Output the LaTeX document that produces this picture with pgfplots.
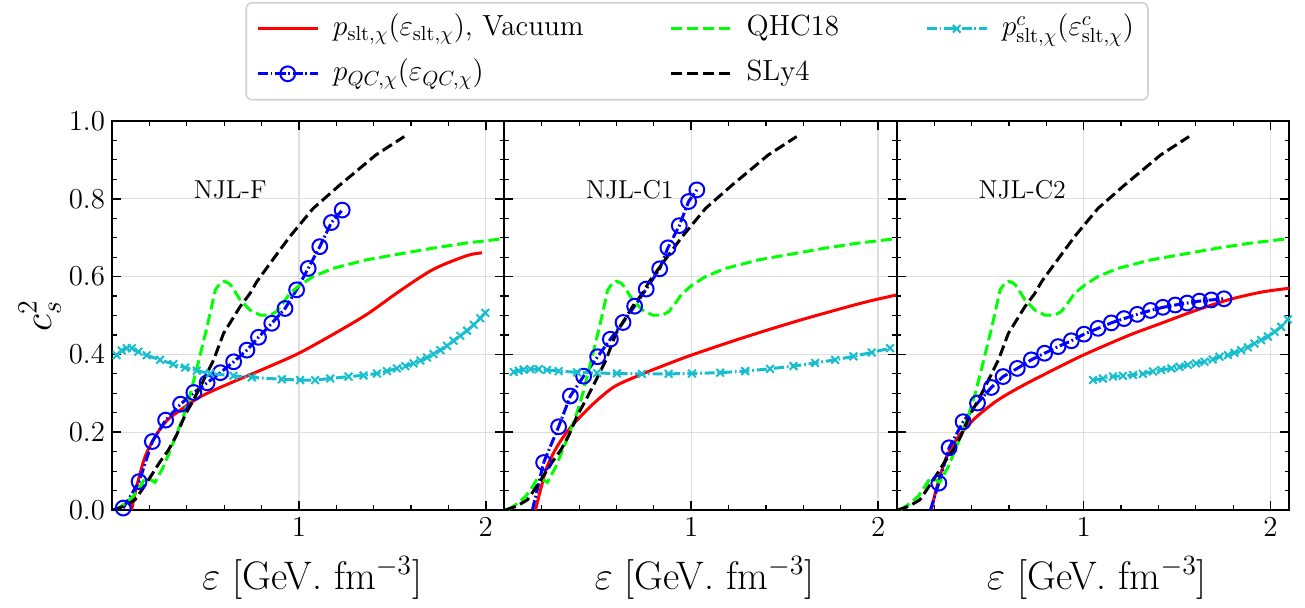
\RequirePackage{fix-cm}
\documentclass[border=0pt]{standalone}
\usepackage{pgfplots}
\pgfplotsset{compat=1.18}
\usepackage{pgfplotstable}
\usepgfplotslibrary{groupplots}

\definecolor{tabcyan}{HTML}{17BECF}

% ---------- reference equations of state (same in every panel) ----------
\pgfplotstableread{
e     cs
0.005 0.000
0.066 0.010
0.123 0.026
0.159 0.051
0.212 0.090
0.257 0.124
0.302 0.154
0.346 0.193
0.391 0.244
0.427 0.275
0.473 0.317
0.544 0.386
0.597 0.454
0.686 0.523
0.739 0.557
0.775 0.587
0.846 0.634
0.952 0.703
1.076 0.775
1.218 0.835
1.413 0.913
1.564 0.960
}\slyfour

\pgfplotstableread{
e     cs
0.020 0.000
0.070 0.017
0.114 0.035
0.150 0.060
0.177 0.081
0.200 0.080
0.230 0.071
0.275 0.111
0.300 0.140
0.346 0.195
0.385 0.245
0.420 0.300
0.456 0.368
0.509 0.471
0.553 0.566
0.580 0.584
0.600 0.588
0.625 0.583
0.642 0.574
0.686 0.540
0.739 0.514
0.793 0.501
0.846 0.501
0.880 0.510
0.920 0.535
0.952 0.557
1.005 0.578
1.076 0.600
1.182 0.621
1.360 0.643
1.537 0.658
1.715 0.673
1.892 0.686
2.069 0.696
2.200 0.702
}\qhc

% ---------- NJL-F ----------
\pgfplotstableread{
e     cs
0.105 0.000
0.123 0.043
0.141 0.077
0.177 0.137
0.230 0.188
0.296 0.231
0.367 0.257
0.438 0.281
0.509 0.300
0.651 0.330
0.828 0.366
1.000 0.403
1.185 0.452
1.364 0.503
1.543 0.564
1.721 0.619
1.900 0.654
1.980 0.661
}\sltF

\pgfplotstableread{
e     cs
0.060 0.005
0.145 0.073
0.216 0.176
0.287 0.231
0.367 0.272
0.438 0.302
0.509 0.327
0.580 0.353
0.651 0.381
0.722 0.411
0.784 0.444
0.855 0.480
0.926 0.518
0.988 0.566
1.050 0.621
1.112 0.677
1.174 0.739
1.232 0.771
}\qcF

\pgfplotstableread{
e     cs
0.025 0.398
0.052 0.410
0.079 0.416
0.106 0.416
0.141 0.407
0.186 0.398
0.257 0.386
0.328 0.375
0.391 0.366
0.454 0.358
0.525 0.351
0.650 0.345
0.748 0.341
0.909 0.336
1.007 0.334
1.087 0.334
1.168 0.338
1.266 0.343
1.346 0.346
1.418 0.351
1.471 0.357
1.525 0.364
1.570 0.370
1.614 0.377
1.650 0.384
1.686 0.392
1.721 0.401
1.757 0.411
1.793 0.422
1.828 0.435
1.864 0.448
1.900 0.461
1.936 0.476
1.971 0.493
1.998 0.507
}\cF

% ---------- NJL-C1 ----------
\pgfplotstableread{
e     cs
0.166 0.000
0.193 0.051
0.228 0.111
0.282 0.163
0.335 0.201
0.389 0.231
0.478 0.274
0.588 0.317
0.730 0.348
0.872 0.375
1.000 0.398
1.227 0.435
1.404 0.462
1.582 0.488
1.759 0.512
1.936 0.535
2.100 0.553
}\sltA

\pgfplotstableread{
e     cs
0.150 0.000
0.210 0.122
}\qcAlead

\pgfplotstableread{
e     cs
0.210 0.122
0.290 0.214
0.353 0.293
0.424 0.344
0.499 0.394
0.567 0.439
0.635 0.482
0.697 0.524
0.759 0.568
0.831 0.620
0.875 0.674
0.936 0.731
0.986 0.793
1.030 0.823
}\qcA

\pgfplotstableread{
e     cs
0.050 0.355
0.077 0.358
0.103 0.361
0.139 0.362
0.184 0.362
0.228 0.360
0.290 0.357
0.389 0.354
0.496 0.352
0.602 0.351
0.736 0.350
0.879 0.350
1.004 0.351
1.155 0.353
1.289 0.357
1.422 0.363
1.547 0.370
1.663 0.378
1.770 0.386
1.868 0.395
1.966 0.405
2.064 0.416
}\cA

% ---------- NJL-C2 ----------
\pgfplotstableread{
e     cs
0.185 0.000
0.212 0.055
0.257 0.125
0.310 0.175
0.372 0.213
0.435 0.243
0.524 0.277
0.600 0.300
0.702 0.327
0.845 0.362
0.997 0.398
1.237 0.448
1.415 0.480
1.594 0.512
1.772 0.540
1.950 0.560
2.100 0.570
}\sltB

\pgfplotstableread{
e     cs
0.180 0.000
0.225 0.069
}\qcBlead

\pgfplotstableread{
e     cs
0.225 0.069
0.280 0.160
0.355 0.227
0.432 0.275
0.506 0.315
0.569 0.343
0.645 0.364
0.720 0.386
0.791 0.403
0.863 0.420
0.934 0.435
1.002 0.452
1.077 0.467
1.148 0.481
1.216 0.492
1.287 0.503
1.358 0.513
1.424 0.521
1.490 0.527
1.554 0.532
1.620 0.537
1.683 0.540
1.751 0.543
}\qcB

\pgfplotstableread{
e     cs
1.050 0.334
1.103 0.338
1.157 0.343
1.210 0.345
1.264 0.347
1.317 0.350
1.371 0.356
1.415 0.360
1.469 0.364
1.513 0.368
1.558 0.373
1.602 0.377
1.647 0.381
1.691 0.387
1.727 0.394
1.772 0.398
1.807 0.404
1.843 0.411
1.879 0.418
1.914 0.428
1.950 0.437
1.986 0.446
2.022 0.458
2.057 0.471
2.093 0.490
}\cB

\pgfplotsset{
  sltstyle/.style={red, line width=1.5bp, no markers, smooth},
  qcline/.style={blue, line width=1.5bp,
    dash pattern=on 5bp off 1.4bp on 0.9bp off 1.4bp},
  qcstyle/.style={qcline, mark=o, mark size=3.7bp,
    mark options={solid, line width=1bp}},
  qhcstyle/.style={green, line width=1.5bp, no markers,
    dash pattern=on 5.5bp off 2.4bp},
  slystyle/.style={black, line width=1.5bp, no markers,
    dash pattern=on 5.5bp off 2.4bp},
  cstyle/.style={tabcyan, line width=1.5bp,
    dash pattern=on 5bp off 1.4bp on 0.9bp off 1.4bp,
    mark=x, mark size=2.7bp, mark options={solid, line width=1bp}},
}
\tikzset{modelname/.style={anchor=base west, font=\fontsize{13}{15}\selectfont}}

\begin{document}
\begin{tikzpicture}[font=\fontsize{14.5}{17}\selectfont]
\begin{groupplot}[
  group style={group size=3 by 1, horizontal sep=0pt,
    yticklabels at=edge left},
  scale only axis, width=196.2bp, height=194.5bp,
  xmin=0, xmax=2.1, ymin=0, ymax=1,
  xtick={0,1,2}, xticklabels={,1,2}, minor x tick num=4,
  ytick={0,0.2,0.4,0.6,0.8,1.0}, minor y tick num=3,
  tick align=inside,
  grid=major, major grid style={gray!25, line width=0.7bp},
  axis line style={line width=0.9bp},
  major tick length=4.5bp, minor tick length=2.3bp,
  every tick/.append style={black, line width=0.8bp},
  every minor tick/.append style={line width=0.6bp},
  yticklabel style={/pgf/number format/.cd, fixed, fixed zerofill,
    precision=1},
  tick label style={font=\fontsize{14.5}{17}\selectfont},
  label style={font=\fontsize{20}{24}\selectfont, inner sep=1bp},
  xlabel style={at={(axis description cs:0.51,-0.175)}, anchor=center},
  xlabel={$\varepsilon$ [GeV.\ fm$^{-3}$]},
  every axis plot/.append style={forget plot},
]

% NJL-F
\nextgroupplot[ylabel={$c_s^2$},
  ylabel style={at={(axis description cs:-0.184,0.5)}, anchor=center}]
\addplot[sltstyle] table[x=e, y=cs] {\sltF};
\addplot[qcstyle] table[x=e, y=cs] {\qcF};
\addplot[qhcstyle] table[x=e, y=cs] {\qhc};
\addplot[slystyle] table[x=e, y=cs] {\slyfour};
\addplot[cstyle] table[x=e, y=cs] {\cF};
\node[modelname] at (axis cs:0.4,0.8) {NJL-F};

% NJL-C1, carries the legend
\nextgroupplot[
  legend columns=3,
  legend cell align=left,
  legend image code/.code={
    \draw[mark repeat=2, mark phase=2, #1]
      plot coordinates {(0bp,0bp) (15bp,0bp) (30bp,0bp)};},
  legend style={at={(0.5,1)}, anchor=north, yshift=59.5bp, xshift=-1.75bp,
    draw=gray!35, line width=0.8bp, rounded corners=3bp, fill=white,
    inner xsep=5bp, inner ysep=3.5bp,
    font=\fontsize{14.6}{17}\selectfont, row sep=3.5bp,
    nodes={text height=11bp, text depth=4bp, inner ysep=2bp},
    /tikz/every odd column/.append style={column sep=5bp},
    /tikz/every even column/.append style={column sep=41bp}},
]
\addplot[sltstyle] table[x=e, y=cs] {\sltA};
\addplot[qcline] table[x=e, y=cs] {\qcAlead};
\addplot[qcstyle] table[x=e, y=cs] {\qcA};
\addplot[qhcstyle] table[x=e, y=cs] {\qhc};
\addplot[slystyle] table[x=e, y=cs] {\slyfour};
\addplot[cstyle] table[x=e, y=cs] {\cA};
\node[modelname] at (axis cs:0.4,0.8) {NJL-C1};
\addlegendimage{sltstyle}
\addlegendentry{$p_{\mathrm{slt},\chi}(\varepsilon_{\mathrm{slt},\chi})$, Vacuum}
\addlegendimage{qhcstyle}
\addlegendentry{QHC18}
\addlegendimage{cstyle}
\addlegendentry{$p^{c}_{\mathrm{slt},\chi}(\varepsilon^{c}_{\mathrm{slt},\chi})$}
\addlegendimage{qcstyle}
\addlegendentry{$p_{QC,\chi}(\varepsilon_{QC,\chi})$}
\addlegendimage{slystyle}
\addlegendentry{SLy4}

% NJL-C2
\nextgroupplot
\addplot[sltstyle] table[x=e, y=cs] {\sltB};
\addplot[qcline] table[x=e, y=cs] {\qcBlead};
\addplot[qcstyle] table[x=e, y=cs] {\qcB};
\addplot[qhcstyle] table[x=e, y=cs] {\qhc};
\addplot[slystyle] table[x=e, y=cs] {\slyfour};
\addplot[cstyle] table[x=e, y=cs] {\cB};
\node[modelname] at (axis cs:0.4,0.8) {NJL-C2};
\end{groupplot}
% page frame around the three panels
\path (group c1r1.south west) ++(-56bp,-49bp) rectangle ++(652.5bp,304bp);
\end{tikzpicture}
\end{document}
